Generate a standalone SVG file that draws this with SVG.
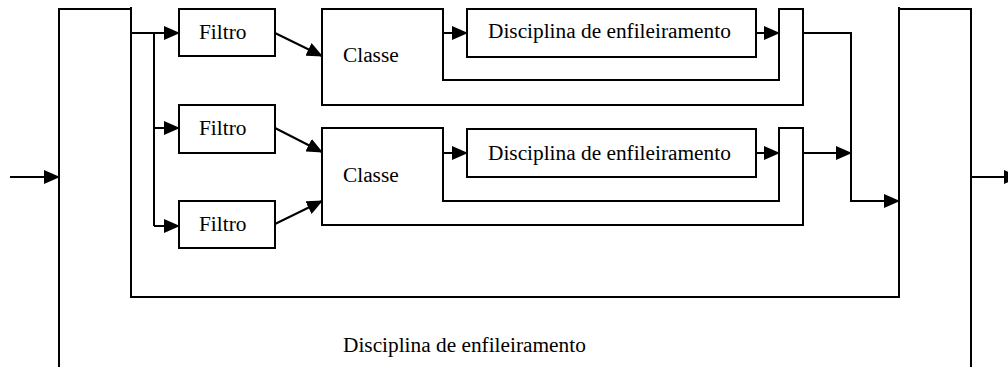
<svg xmlns="http://www.w3.org/2000/svg" width="1008" height="367" viewBox="0 0 1008 367">
<style>
.s{fill:none;stroke:#000;stroke-width:2}
.b{fill:#fff;stroke:#000;stroke-width:2}
.t{font-family:"Liberation Serif","Times New Roman",serif;font-size:21.33px;fill:#000}
</style>
<defs>
<marker id="a" markerUnits="userSpaceOnUse" markerWidth="16" markerHeight="14" refX="15" refY="7" orient="auto">
<path d="M0,0 L16,7 L0,14 z" fill="#000"/>
</marker>
</defs>
<rect width="1008" height="367" fill="#fff"/>
<g id="outer-discipline">
<path class="s" d="M59,367 V9 H131 M899,9 H971 V367"/>
<text class="t" x="343" y="352">Disciplina de enfileiramento</text>
</g>
<g id="inner-bracket">
<path class="s" d="M131,7 V297 H899 V7"/>
</g>
<g id="filtro1">
<rect class="b" x="179" y="9" width="96" height="47"/>
<text class="t" x="199" y="38.5">Filtro</text>
</g>
<g id="filtro2">
<rect class="b" x="179" y="105" width="96" height="48"/>
<text class="t" x="199" y="135">Filtro</text>
</g>
<g id="filtro3">
<rect class="b" x="179" y="201" width="96" height="47"/>
<text class="t" x="199" y="231">Filtro</text>
</g>
<g id="classe1">
<path class="s" d="M322,9 H443 V80 H779 V9 H803 V105 H322 Z"/>
<text class="t" x="343" y="62">Classe</text>
</g>
<g id="disciplina1">
<rect class="b" x="467" y="9" width="289" height="48"/>
<text class="t" x="488" y="38">Disciplina de enfileiramento</text>
</g>
<g id="classe2">
<path class="s" d="M322,128 H443 V201 H779 V128 H803 V225 H322 Z"/>
<text class="t" x="343" y="182">Classe</text>
</g>
<g id="disciplina2">
<rect class="b" x="467" y="129" width="289" height="48"/>
<text class="t" x="488" y="160">Disciplina de enfileiramento</text>
</g>
<g id="connectors" class="s">
<path d="M10,177 H59" marker-end="url(#a)"/>
<path d="M131,33 H179" marker-end="url(#a)"/>
<path d="M154,33 V226"/>
<path d="M154,128 H179" marker-end="url(#a)"/>
<path d="M154,226 H179" marker-end="url(#a)"/>
<path d="M275,33 L322,56" marker-end="url(#a)"/>
<path d="M275,128 L322,152" marker-end="url(#a)"/>
<path d="M275,224 L322,201" marker-end="url(#a)"/>
<path d="M443,33 H467" marker-end="url(#a)"/>
<path d="M756,33 H779" marker-end="url(#a)"/>
<path d="M443,153 H467" marker-end="url(#a)"/>
<path d="M756,153 H779" marker-end="url(#a)"/>
<path d="M803,33 H851 V201 H899" marker-end="url(#a)"/>
<path d="M803,153 H851" marker-end="url(#a)"/>
<path d="M971,177 H1019" marker-end="url(#a)"/>
</g>
</svg>
